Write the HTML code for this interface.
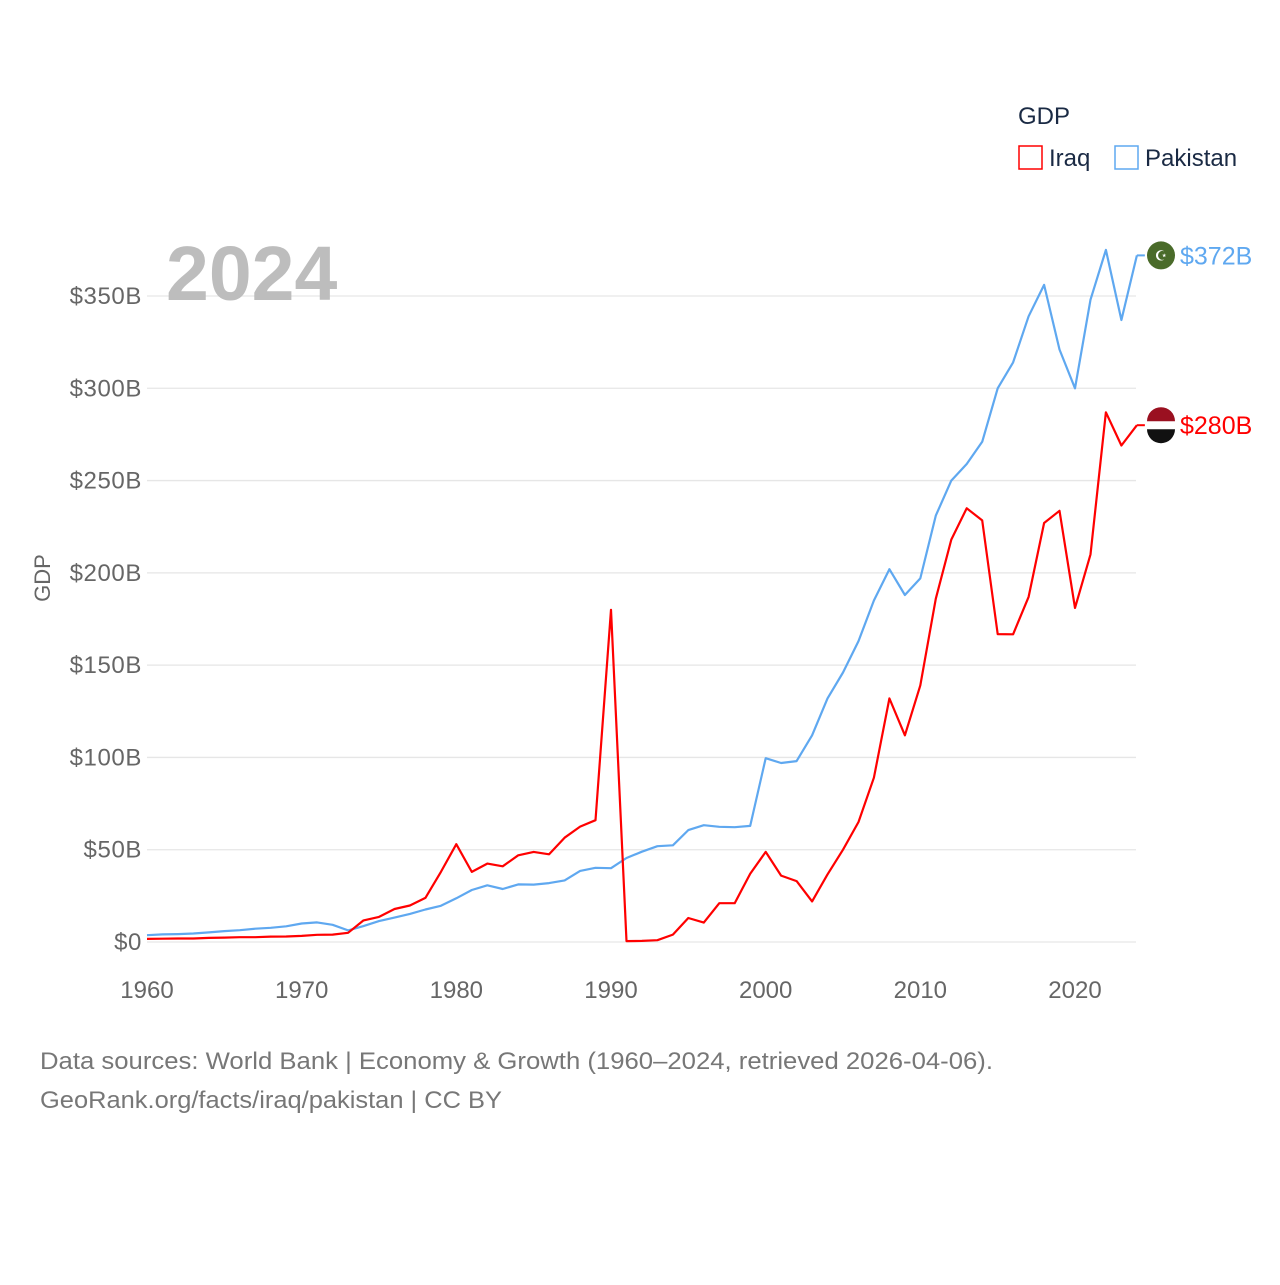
<!DOCTYPE html>
<html><head><meta charset="utf-8"><style>
body{margin:0;background:#fff;font-family:"Liberation Sans",sans-serif}
svg text{font-family:"Liberation Sans",sans-serif}
</style></head><body>
<svg id="chart" width="1280" height="1280" xmlns="http://www.w3.org/2000/svg">
<g id="grid"></g><g id="ylabels"></g><g id="xlabels"></g>
<text x="166" y="300" font-size="77" font-weight="bold" fill="#bdbdbd">2024</text>
<text transform="translate(50,578) rotate(-90)" text-anchor="middle" font-size="22" fill="#666">GDP</text>
<g id="lines"></g>
<g>
<text x="1018" y="124" font-size="24" fill="#1a2a44">GDP</text>
<rect x="1019" y="146" width="23" height="23" fill="none" stroke="#ff0000" stroke-width="1.5"/>
<text x="1049" y="166" font-size="24" fill="#1a2a44">Iraq</text>
<rect x="1115" y="146" width="23" height="23" fill="none" stroke="#5fa8f0" stroke-width="1.5"/>
<text x="1145" y="166" font-size="24" fill="#1a2a44">Pakistan</text>
</g>
<text x="40" y="1069" font-size="24" fill="#777" textLength="953" lengthAdjust="spacingAndGlyphs">Data sources: World Bank | Economy &amp; Growth (1960–2024, retrieved 2026-04-06).</text>
<text x="40" y="1108" font-size="24" fill="#777" textLength="462" lengthAdjust="spacingAndGlyphs">GeoRank.org/facts/iraq/pakistan | CC BY</text>
</svg>
<script>
const years=[];for(let y=1960;y<=2024;y++)years.push(y);
const pakistan=[3.7,4.1,4.3,4.6,5.2,5.9,6.4,7.2,7.7,8.5,10.0,10.6,9.3,6.3,8.6,11.3,13.2,15.2,17.6,19.6,23.7,28.2,30.7,28.7,31.2,31.1,31.9,33.4,38.5,40.2,40.0,45.5,48.9,51.9,52.4,60.6,63.3,62.4,62.2,62.9,99.6,97,98,112,132,146,163,185,202,188,197,231,250,259,271,300,314,339,356,321,300,348,375,337,372];
const iraq=[1.7,1.8,1.9,1.9,2.2,2.4,2.6,2.6,2.9,3.0,3.3,3.9,4.0,5.0,11.7,13.6,17.9,19.8,23.9,38,53,38,42.5,41,47,48.8,47.5,56.5,62.5,66,180,0.5,0.6,1.0,4,13,10.5,21,21,37,48.8,36,33,22,36.6,50,65,89,132,112,139,186,218,235,228.4,166.8,166.7,187,227,233.6,181,210,287,269,280];
const yTicks=[0,50,100,150,200,250,300,350];
const xTicks=[1960,1970,1980,1990,2000,2010,2020];
const NS="http://www.w3.org/2000/svg";
const X=y=>147+(y-1960)*(1075-147)/60;
const Y=v=>942-v*(942-296)/350;
function mk(t,a,p){const e=document.createElementNS(NS,t);for(const k in a)e.setAttribute(k,a[k]);p.appendChild(e);return e;}
const g=document.getElementById('grid'),yl=document.getElementById('ylabels'),xl=document.getElementById('xlabels'),ln=document.getElementById('lines');
yTicks.forEach(v=>{
 const l=mk('line',{x1:147,x2:1136,y1:Y(v),y2:Y(v),stroke:'#e6e6e6','stroke-width':1.3},g);
 
 
 const t=mk('text',{x:142,y:Y(v)+8,'text-anchor':'end','font-size':24,'letter-spacing':0.6,fill:'#666'},yl);
 t.textContent='$'+v+(v===0?'':'B');
 
 
});
xTicks.forEach(v=>{
 const t=mk('text',{x:X(v),y:998,'text-anchor':'middle','font-size':24,fill:'#666'},xl);
 t.textContent=v;
 
 
});
function series(vals,color,name){
 const d=vals.map((v,i)=>(i?'L':'M')+X(years[i]).toFixed(1)+','+Y(v).toFixed(1)).join('');
 const p=mk('path',{d:d,fill:'none',stroke:color,'stroke-width':2.2,'stroke-linejoin':'round'},ln);
 
 
 const last=vals[vals.length-1],ly=Y(last);
 const c=mk('line',{x1:X(2024),x2:X(2024)+8,y1:ly,y2:ly,stroke:color,'stroke-width':2},ln);
 
 
 const f=mk('circle',{cx:1161,cy:ly,r:14,fill:name==='pakistan'?'#4a6b2a':'#fff'},ln);
 
 
 if(name==='iraq'){
  const a=mk('path',{d:`M1147,${ly-4}A14,14 0 0 1 1175,${ly-4}Z`,fill:'#9a1020'},ln);
  
  
  const b=mk('path',{d:`M1147,${ly+4}A14,14 0 0 0 1175,${ly+4}Z`,fill:'#111'},ln);
  
  
 } else {
  const cr=mk('text',{x:1161,y:ly+5,'text-anchor':'middle','font-size':14,fill:'#fff'},ln);
  cr.textContent='☪';
  
  
 }
 const t=mk('text',{x:1180,y:ly+9,'font-size':25,fill:color},ln);
 t.textContent='$'+last+'B';
 
 
}
series(pakistan,'#5fa8f0','pakistan');
series(iraq,'#ff0000','iraq');
</script>
</body></html>
